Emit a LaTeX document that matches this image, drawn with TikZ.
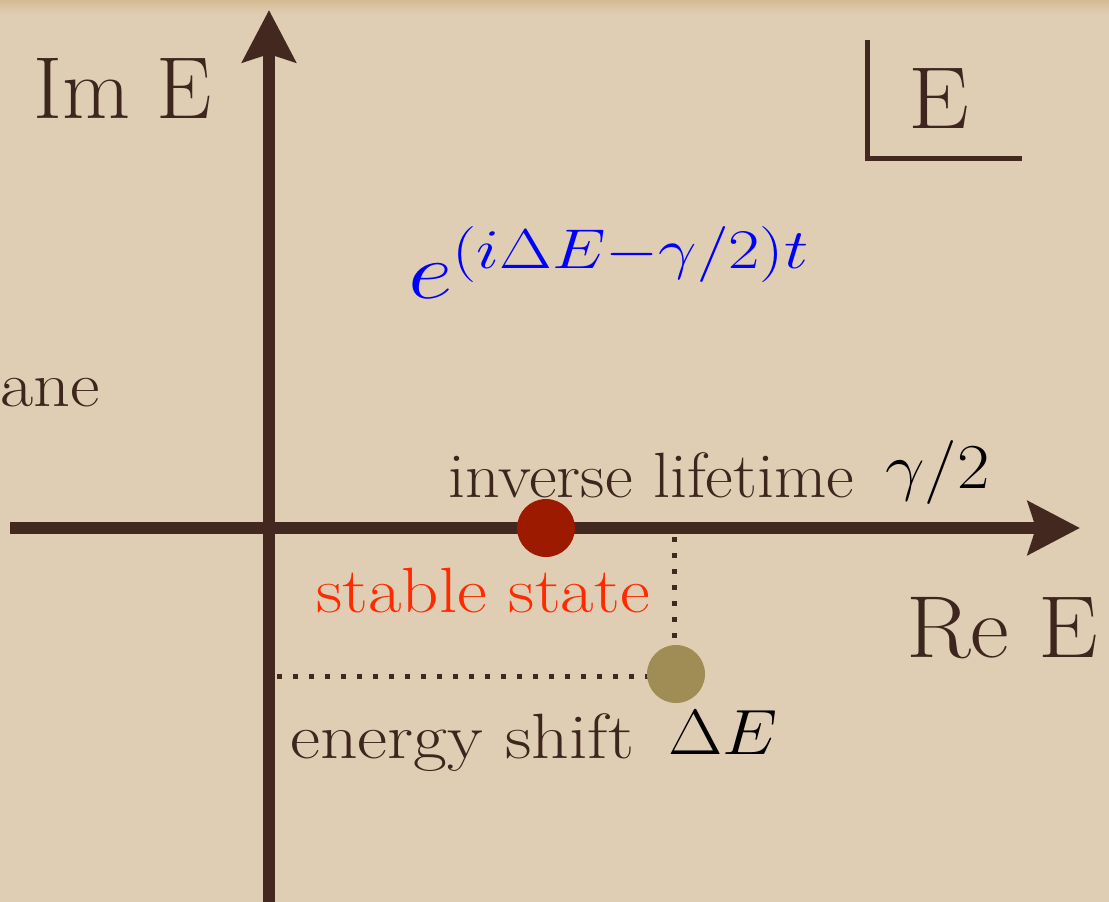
\RequirePackage{fix-cm}
\documentclass[tikz,border=0pt]{standalone}
\usepackage{fontspec}
\usetikzlibrary{arrows.meta}
\definecolor{parch}{RGB}{223,206,180}
\definecolor{parchtop}{RGB}{214,186,146}
\definecolor{axbrown}{RGB}{66,40,31}
\definecolor{txtbrown}{RGB}{62,38,30}
\definecolor{stred}{RGB}{156,26,0}
\definecolor{olivedot}{RGB}{160,140,85}
\definecolor{redtxt}{RGB}{255,42,0}
\tikzset{
  axis/.style={draw=axbrown, line width=12pt, -{Stealth[length=52pt,width=53pt,inset=8pt]}},
  boxline/.style={draw=axbrown, line width=5pt},
  dotline/.style={draw=axbrown, line width=5pt, dash pattern=on 5pt off 11pt},
  dot/.style={circle, minimum size=58pt, inner sep=0pt, draw=none},
  lbl/.style={text=txtbrown, inner sep=0pt, anchor=base west, font=\fontsize{64}{64}\selectfont},
  big/.style={lbl, font=\fontsize{88}{88}\selectfont},
  mathlbl/.style={text=black, inner sep=0pt, anchor=base west, font=\fontsize{64}{64}\selectfont, xscale=1.1},
}
\begin{document}
\begin{tikzpicture}[x=1pt,y=-1pt]
\useasboundingbox (0,0) rectangle (1109,902);
\fill[parch] (0,0) rectangle (1109,902);
\shade[top color=parchtop, bottom color=parch] (0,0) rectangle (1109,14);
% axes
\coordinate (vb) at (269,902);
\coordinate (vt) at (269,10);
\coordinate (hl) at (10,528);
\coordinate (hr) at (1080,528);
\draw[axis] (vb) -- (vt);
\draw[axis] (hl) -- (hr);
% corner mark
\coordinate (et) at (867,40);
\coordinate (ec) at (867,158);
\coordinate (er) at (1022,158);
\draw[boxline] (et) -- (ec) -- (er);
% dots and dotted guides
\coordinate (shiftc) at (676,674);
\coordinate (vd) at (674,537);
\coordinate (vde) at (674,649);
\coordinate (hd) at (277,676);
\coordinate (hde) at (648,676);
\draw[dotline] (vd) -- (vde);
\draw[dotline] (hd) -- (hde);
\node[dot, fill=stred] (stable) at (546,528) {};
\node[dot, fill=olivedot] (shift) at (shiftc) {};
% texts
\node[big] (im) at (33,118) {Im E};
\node[lbl, xscale=1.13] (ane) at (0,406) {ane};
\node[big, xscale=1.08] (re) at (906,657) {Re E};
\node[big, xscale=1.1] (ebox) at (908,128) {E};
\node[lbl, xscale=1.06] (inv) at (448,497) {inverse lifetime};
\node[mathlbl] (gam) at (885,488) {$\gamma/2$};
\node[lbl, text=redtxt, xscale=1.14] (stab) at (316,612) {stable state};
\node[lbl, xscale=1.15] (en) at (290,758) {energy shift};
\node[mathlbl] (de) at (668,754) {$\Delta E$};
\node[anchor=base west, text=blue, inner sep=0pt, font=\fontsize{80}{80}\selectfont, xscale=1.22] (ex) at (408,298) {$e^{(i\Delta E-\gamma/2)t}$};
\end{tikzpicture}
\end{document}
